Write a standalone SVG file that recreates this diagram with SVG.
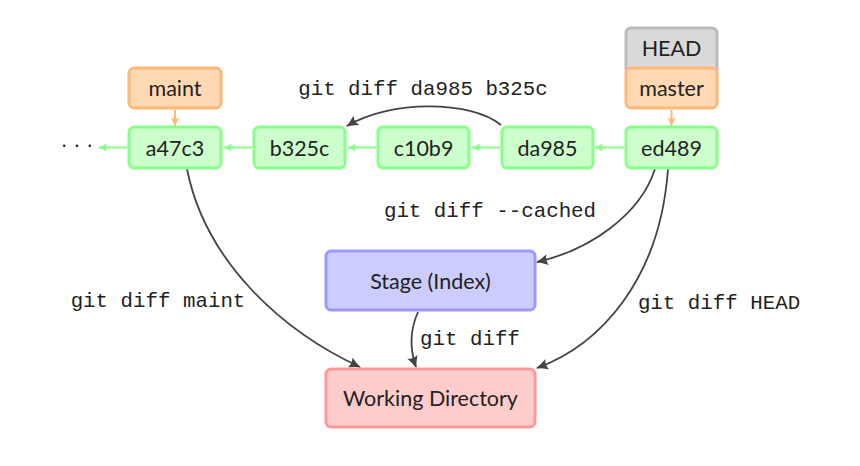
<svg xmlns="http://www.w3.org/2000/svg" width="860" height="466" viewBox="0 0 860 466">
<style>
.node text{font-family:Lato,"Open Sans",sans-serif;font-size:21.5px;fill:#222;text-anchor:middle;dominant-baseline:central}
.commit rect{fill:#ccffcc;stroke:#88ff88;stroke-width:3}
.branch rect{fill:#ffd9b3;stroke:#ffb877;stroke-width:3}
.head rect{fill:#d9d9d9;stroke:#bbbbbb;stroke-width:3}
.stage rect{fill:#ccccff;stroke:#9999ff;stroke-width:3}
.wd rect{fill:#ffcccc;stroke:#ff9999;stroke-width:3}
.lbl{font-family:"Liberation Mono","DejaVu Sans Mono",monospace;font-size:20.8px;fill:#222}
.diff{fill:none;stroke:#444;stroke-width:1.8;marker-end:url(#dark)}
.g{stroke:#88ff88;stroke-width:2;marker-end:url(#green)}
.o{stroke:#ffb877;stroke-width:2;marker-end:url(#orange)}
</style>
<defs>
<marker id="dark" markerUnits="userSpaceOnUse" markerWidth="14" markerHeight="12" refX="11" refY="6" orient="auto"><path d="M0,0.5 Q6,4 12,6 Q6,8 0,11.5 Q3,6 0,0.5z" fill="#444"/></marker>
<marker id="green" markerUnits="userSpaceOnUse" markerWidth="10" markerHeight="10" refX="8" refY="5" orient="auto"><path d="M0,1 L8,5 L0,9 Q2,5 0,1z" fill="#88ff88"/></marker>
<marker id="orange" markerUnits="userSpaceOnUse" markerWidth="10" markerHeight="10" refX="8" refY="5" orient="auto"><path d="M0,1 L8,5 L0,9 Q2,5 0,1z" fill="#ffb877"/></marker>
</defs>
<rect width="860" height="466" fill="#fff"/>
<g id="connectors">
<line class="g" x1="127" y1="147.5" x2="99" y2="147.5"/>
<line class="g" x1="252" y1="147.5" x2="224" y2="147.5"/>
<line class="g" x1="376" y1="147.5" x2="348" y2="147.5"/>
<line class="g" x1="500" y1="147.5" x2="472" y2="147.5"/>
<line class="g" x1="624" y1="147.5" x2="595" y2="147.5"/>
<line class="o" x1="175" y1="110" x2="175" y2="126"/>
<line class="o" x1="671.5" y1="110" x2="671.5" y2="126"/>
<path class="diff" d="M501 125 C470 100 390 100 347 126"/>
<path class="diff" d="M655 169 C640 215 590 250 537 262"/>
<path class="diff" d="M668 169 C660 280 600 345 537 368"/>
<path class="diff" d="M187 169 C205 260 280 330 360 367"/>
<path class="diff" d="M418 312 C410 330 410 350 416 367"/>
<text class="lbl" x="423" y="95" text-anchor="middle">git diff da985 b325c</text>
<text class="lbl" x="490" y="217" text-anchor="middle">git diff --cached</text>
<text class="lbl" x="719" y="309" text-anchor="middle">git diff HEAD</text>
<text class="lbl" x="158" y="307" text-anchor="middle">git diff maint</text>
<text class="lbl" x="420" y="345">git diff</text>
<text x="77" y="153" font-family="'DejaVu Sans',sans-serif" font-size="20" fill="#222" text-anchor="middle">· · ·</text>
</g>
<g id="head" class="node head"><rect x="626" y="28" width="91" height="46" rx="5"/><text x="671.5" y="48">HEAD</text></g>
<g id="master" class="node branch"><rect x="626" y="68" width="91" height="40" rx="5"/><text x="671.5" y="88">master</text></g>
<g id="maint" class="node branch"><rect x="129" y="68" width="92" height="40" rx="5"/><text x="175" y="88">maint</text></g>
<g id="a47c3" class="node commit"><rect x="129" y="127" width="92" height="41" rx="5"/><text x="175" y="147.5">a47c3</text></g>
<g id="b325c" class="node commit"><rect x="254" y="127" width="91" height="41" rx="5"/><text x="299.5" y="147.5">b325c</text></g>
<g id="c10b9" class="node commit"><rect x="378" y="127" width="91" height="41" rx="5"/><text x="423.5" y="147.5">c10b9</text></g>
<g id="da985" class="node commit"><rect x="502" y="127" width="91" height="41" rx="5"/><text x="547.5" y="147.5">da985</text></g>
<g id="ed489" class="node commit"><rect x="626" y="127" width="91" height="41" rx="5"/><text x="671.5" y="147.5">ed489</text></g>
<g id="stage" class="node stage"><rect x="326" y="251" width="209" height="59" rx="5"/><text x="430.5" y="280.5">Stage (Index)</text></g>
<g id="working" class="node wd"><rect x="326" y="369" width="209" height="58" rx="5"/><text x="430.5" y="398">Working Directory</text></g>
</svg>
